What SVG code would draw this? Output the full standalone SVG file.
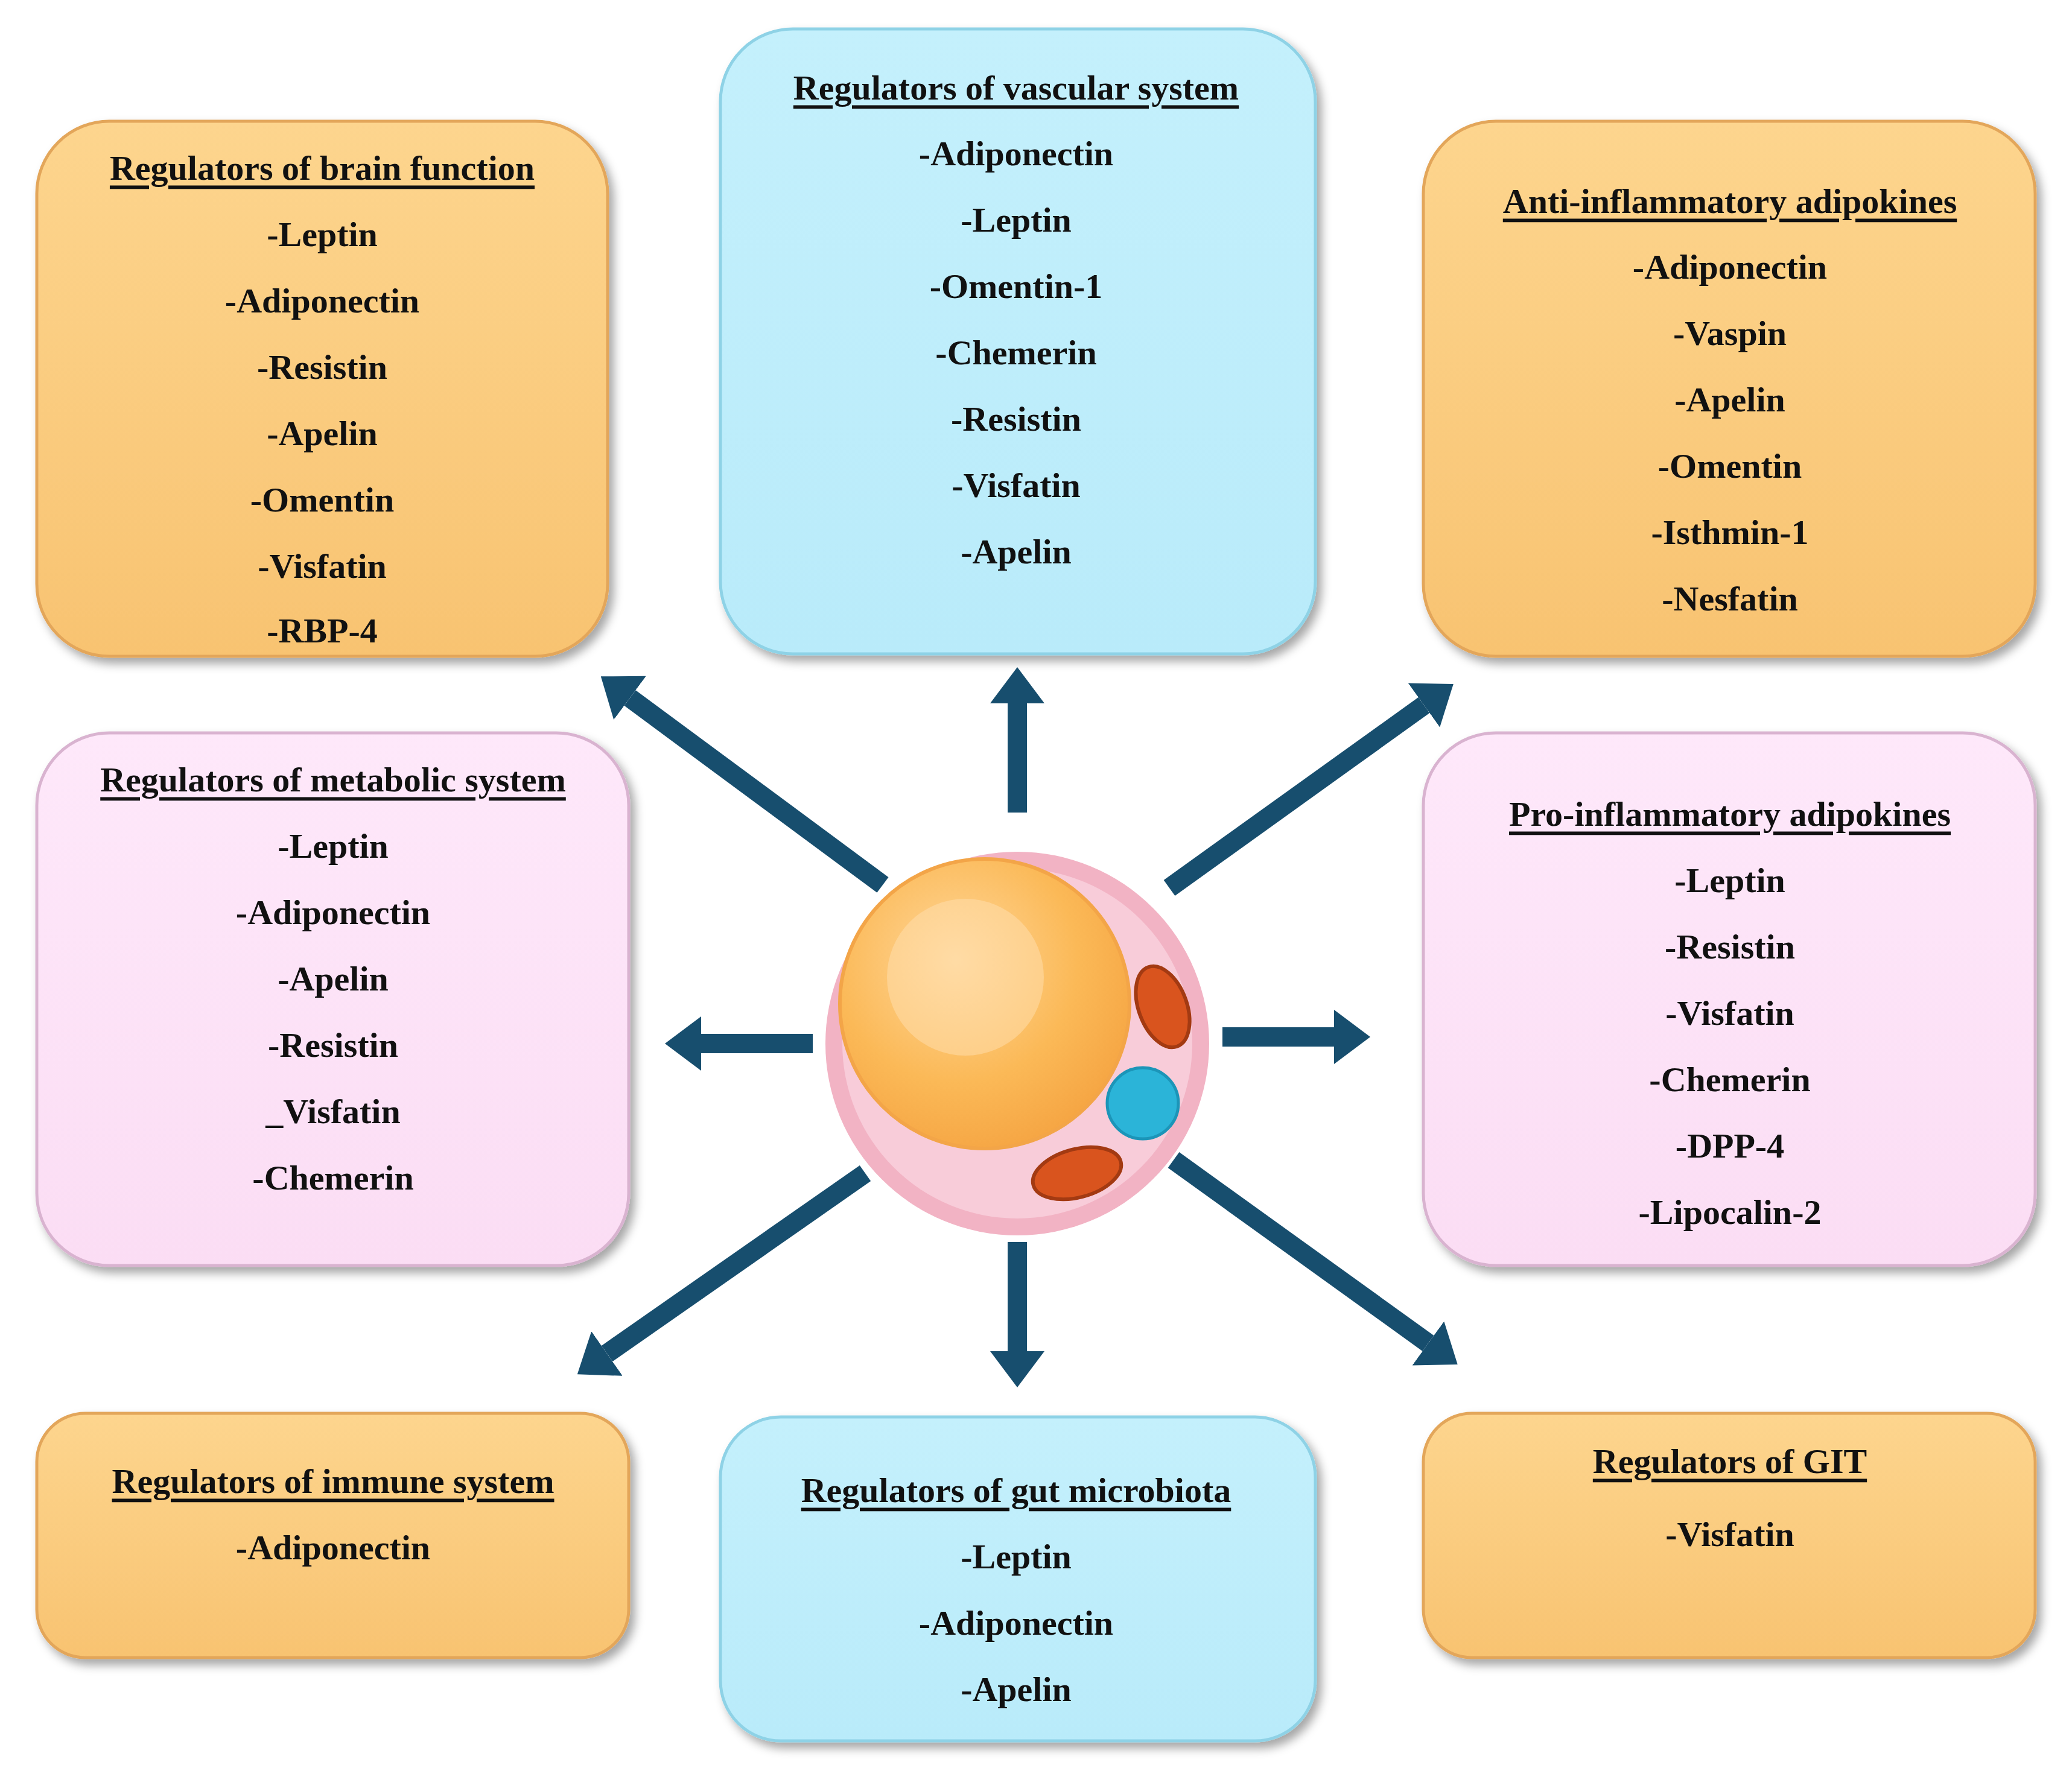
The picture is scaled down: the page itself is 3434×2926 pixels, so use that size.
<svg xmlns="http://www.w3.org/2000/svg" width="3434" height="2926" viewBox="0 0 3434 2926">
<defs>
<filter id="sh" x="-10%" y="-10%" width="125%" height="125%"><feDropShadow dx="8" dy="10" stdDeviation="8" flood-color="#000" flood-opacity="0.35"/></filter>
<linearGradient id="go" x1="0" y1="0" x2="0" y2="1"><stop offset="0" stop-color="#FDD58E"/><stop offset="1" stop-color="#F8C371"/></linearGradient>
<linearGradient id="gb" x1="0" y1="0" x2="0" y2="1"><stop offset="0" stop-color="#C4F0FC"/><stop offset="1" stop-color="#B9EBFA"/></linearGradient>
<linearGradient id="gp" x1="0" y1="0" x2="0" y2="1"><stop offset="0" stop-color="#FEE8FA"/><stop offset="1" stop-color="#FBDDF4"/></linearGradient>
<radialGradient id="nuc" cx="0.4" cy="0.35" r="0.7"><stop offset="0" stop-color="#FFD79A"/><stop offset="0.6" stop-color="#FBB957"/><stop offset="1" stop-color="#F5A442"/></radialGradient>
<marker id="ah" viewBox="0 0 60 90" refX="0" refY="45" markerWidth="60" markerHeight="90" markerUnits="userSpaceOnUse" orient="auto"><polygon points="0,0 60,45 0,90" fill="#174E6E"/></marker>
</defs>
<style>
.o{fill:url(#go);stroke:#E3A65A;stroke-width:5;filter:url(#sh)}
.b{fill:url(#gb);stroke:#8ED2E6;stroke-width:5;filter:url(#sh)}
.p{fill:url(#gp);stroke:#D9B3D0;stroke-width:5;filter:url(#sh)}
text{font-family:"Liberation Serif","Times New Roman",serif;font-weight:bold;font-size:58px;fill:#111;text-anchor:middle;dominant-baseline:central}
.t{text-decoration:underline}
.ar{stroke:#174E6E;stroke-width:32;fill:none;marker-end:url(#ah)}
</style>
<rect width="3434" height="2926" fill="#fff"/>
<g id="brain"><rect class="o" x="61" y="201" width="946" height="887" rx="120"/>
<text class="t" x="534" y="278">Regulators of brain function</text>
<text x="534" y="388">-Leptin</text><text x="534" y="498">-Adiponectin</text><text x="534" y="608">-Resistin</text><text x="534" y="718">-Apelin</text><text x="534" y="828">-Omentin</text><text x="534" y="938">-Visfatin</text><text x="534" y="1045">-RBP-4</text></g>
<g id="vascular"><rect class="b" x="1194" y="48" width="986" height="1036" rx="120"/>
<text class="t" x="1684" y="145">Regulators of vascular system</text>
<text x="1684" y="254">-Adiponectin</text><text x="1684" y="364">-Leptin</text><text x="1684" y="474">-Omentin-1</text><text x="1684" y="584">-Chemerin</text><text x="1684" y="694">-Resistin</text><text x="1684" y="804">-Visfatin</text><text x="1684" y="914">-Apelin</text></g>
<g id="anti"><rect class="o" x="2359" y="201" width="1014" height="887" rx="120"/>
<text class="t" x="2867" y="333">Anti-inflammatory adipokines</text>
<text x="2867" y="442">-Adiponectin</text><text x="2867" y="552">-Vaspin</text><text x="2867" y="662">-Apelin</text><text x="2867" y="772">-Omentin</text><text x="2867" y="882">-Isthmin-1</text><text x="2867" y="992">-Nesfatin</text></g>
<g id="metabolic"><rect class="p" x="61" y="1215" width="981" height="883" rx="120"/>
<text class="t" x="552" y="1292">Regulators of metabolic system</text>
<text x="552" y="1402">-Leptin</text><text x="552" y="1512">-Adiponectin</text><text x="552" y="1622">-Apelin</text><text x="552" y="1732">-Resistin</text><text x="552" y="1842">_Visfatin</text><text x="552" y="1952">-Chemerin</text></g>
<g id="pro"><rect class="p" x="2359" y="1215" width="1014" height="883" rx="120"/>
<text class="t" x="2867" y="1349">Pro-inflammatory adipokines</text>
<text x="2867" y="1459">-Leptin</text><text x="2867" y="1569">-Resistin</text><text x="2867" y="1679">-Visfatin</text><text x="2867" y="1789">-Chemerin</text><text x="2867" y="1899">-DPP-4</text><text x="2867" y="2009">-Lipocalin-2</text></g>
<g id="immune"><rect class="o" x="61" y="2343" width="981" height="405" rx="80"/>
<text class="t" x="552" y="2455">Regulators of immune system</text><text x="552" y="2565">-Adiponectin</text></g>
<g id="gut"><rect class="b" x="1194" y="2349" width="986" height="537" rx="100"/>
<text class="t" x="1684" y="2470">Regulators of gut microbiota</text>
<text x="1684" y="2580">-Leptin</text><text x="1684" y="2690">-Adiponectin</text><text x="1684" y="2800">-Apelin</text></g>
<g id="git"><rect class="o" x="2359" y="2343" width="1014" height="405" rx="80"/>
<text class="t" x="2867" y="2422">Regulators of GIT</text><text x="2867" y="2543">-Visfatin</text></g>
<g id="cell">
<circle cx="1686" cy="1730" r="318" fill="#F2B3C4"/>
<circle cx="1686" cy="1730" r="290" fill="#F8CCD9"/>
<circle cx="1632" cy="1664" r="240" fill="url(#nuc)" stroke="#F3A548" stroke-width="6"/>
<circle cx="1600" cy="1620" r="130" fill="#FFE0B0" opacity="0.5"/>
<ellipse cx="1927" cy="1669" rx="40" ry="70" transform="rotate(-20 1927 1669)" fill="#D9541E" stroke="#A33A12" stroke-width="6"/>
<ellipse cx="1785" cy="1945" rx="75" ry="40" transform="rotate(-15 1785 1945)" fill="#D9541E" stroke="#A33A12" stroke-width="6"/>
<circle cx="1894" cy="1829" r="59" fill="#2BB4D8" stroke="#1C95B8" stroke-width="5"/>
</g>
<g id="connectors">
<line class="ar" x1="1686" y1="1347" x2="1686" y2="1166"/>
<line class="ar" x1="1686" y1="2059" x2="1686" y2="2240"/>
<line class="ar" x1="1347" y1="1730" x2="1162" y2="1730"/>
<line class="ar" x1="2026" y1="1719" x2="2211" y2="1719"/>
<line class="ar" x1="1463" y1="1467" x2="1044" y2="1157"/>
<line class="ar" x1="1938" y1="1472" x2="2360" y2="1169"/>
<line class="ar" x1="1434" y1="1945" x2="1006" y2="2244"/>
<line class="ar" x1="1945" y1="1923" x2="2367" y2="2227"/>
</g>
</svg>
